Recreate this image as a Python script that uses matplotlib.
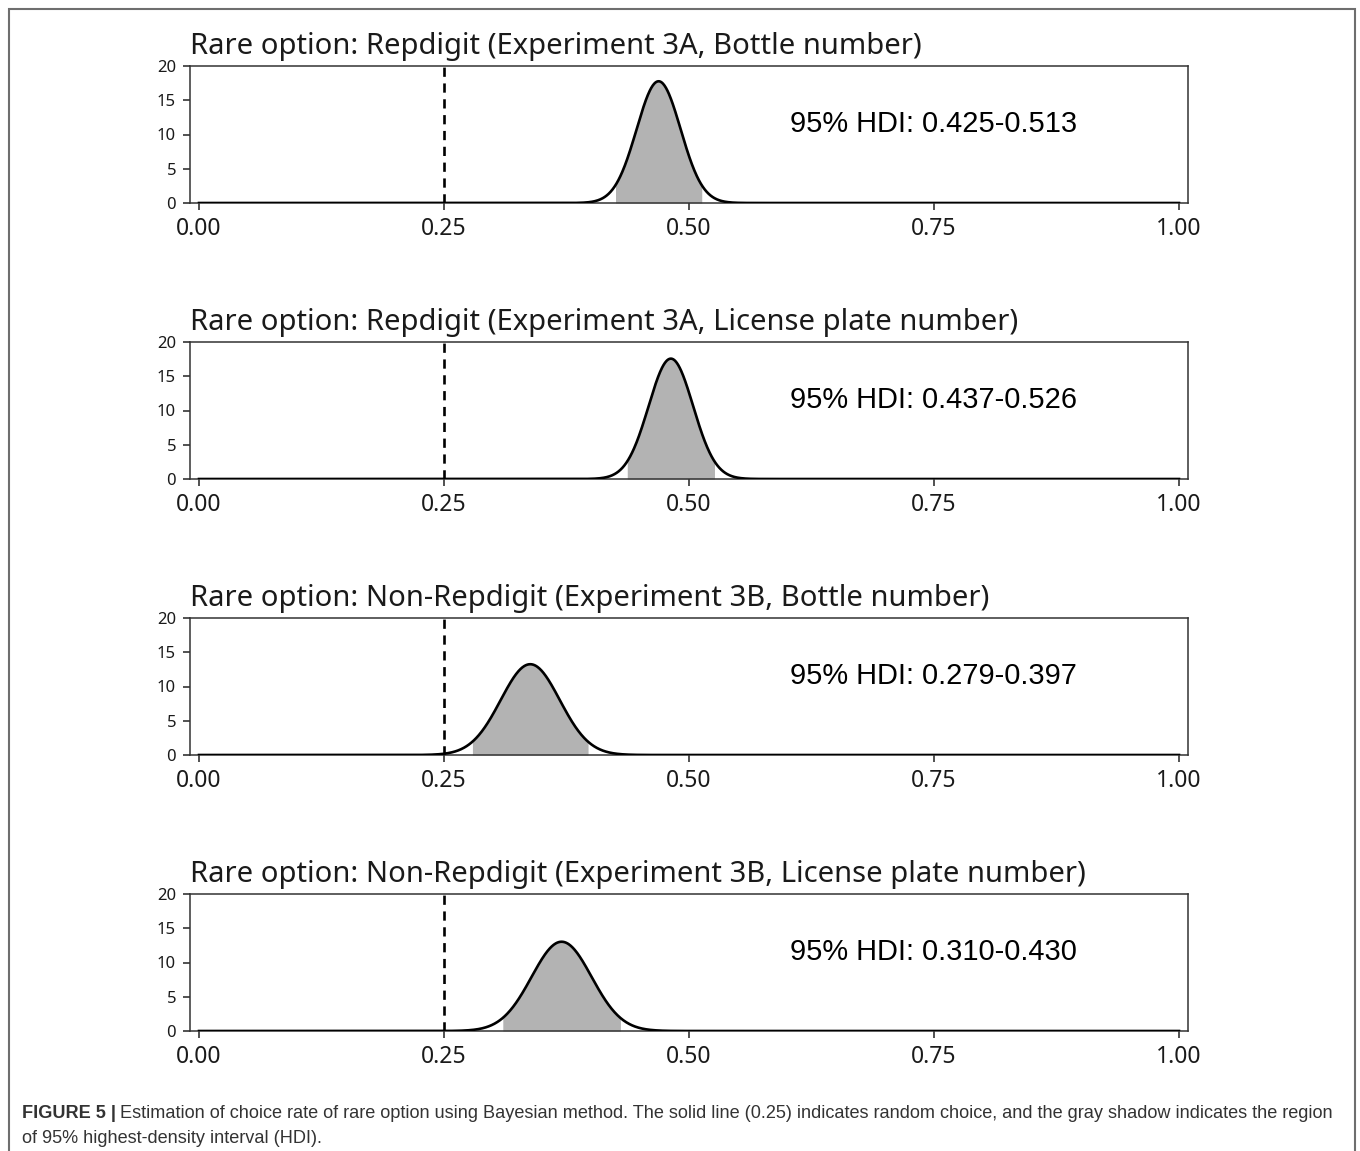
import numpy as np
import matplotlib.pyplot as plt
from matplotlib.patches import Rectangle

titles = [
    "Rare option: Repdigit (Experiment 3A, Bottle number)",
    "Rare option: Repdigit (Experiment 3A, License plate number)",
    "Rare option: Non-Repdigit (Experiment 3B, Bottle number)",
    "Rare option: Non-Repdigit (Experiment 3B, License plate number)",
]
hdi_low = [0.425, 0.437, 0.279, 0.310]
hdi_high = [0.513, 0.526, 0.397, 0.430]
chance = 0.25
x_ticks = [0.00, 0.25, 0.50, 0.75, 1.00]
y_ticks = [0, 5, 10, 15, 20]

W, H = 1360, 1151
fig = plt.figure(figsize=(W / 100, H / 100), dpi=100)

label_font = ["Noto Sans", "DejaVu Sans"]
sans = ["Liberation Sans", "DejaVu Sans"]
axcol = "#333333"

left, right = 190, 1188
tops = [66, 342, 618, 894]
panel_h = 137

x = np.linspace(0, 1, 2001)

for i in range(4):
    top = tops[i]
    ax = fig.add_axes([left / W, 1 - (top + panel_h) / H,
                       (right - left) / W, panel_h / H])
    lo, hi = hdi_low[i], hdi_high[i]
    # posterior approximated as normal with the 95% HDI as +/- 1.96 sd
    mu = (lo + hi) / 2
    sd = (hi - lo) / (2 * 1.96)
    dens = np.exp(-0.5 * ((x - mu) / sd) ** 2) / (sd * np.sqrt(2 * np.pi))

    inside = (x >= lo) & (x <= hi)
    ax.fill_between(x[inside], 0, dens[inside], color="#b3b3b3", lw=0, zorder=1)
    ax.plot(x, dens, color="black", lw=1.9, zorder=3)
    ax.vlines(chance, 0, 20, colors="black", linestyles=(0, (3.5, 2.5)),
              lw=1.9, zorder=2)

    ax.set_xlim(-9 / 980, 1 + 9 / 980)
    ax.set_ylim(0, 20)
    ax.set_xticks(x_ticks)
    ax.set_xticklabels([f"{t:.2f}" for t in x_ticks], fontfamily=label_font,
                       fontsize=16.5)
    ax.set_yticks(y_ticks)
    ax.set_yticklabels([str(t) for t in y_ticks], fontfamily=label_font,
                       fontsize=12)
    ax.tick_params(axis="x", length=5, width=1.2, color=axcol, pad=5,
                   labelcolor="#1a1a1a")
    ax.tick_params(axis="y", length=5, width=1.2, color=axcol, pad=5,
                   labelcolor="#1a1a1a")
    for sp in ax.spines.values():
        sp.set_color(axcol)
        sp.set_linewidth(1.1)

    ax.text(0, 1 + 12 / panel_h, titles[i], transform=ax.transAxes,
            ha="left", va="baseline", fontsize=21, fontfamily=label_font,
            color="#1a1a1a")
    ax.text(0.603, 11.6, f"95% HDI: {lo:.3f}-{hi:.3f}", ha="left",
            va="center", fontsize=20.9, fontfamily=sans, color="black")

# outer frame
fig.add_artist(Rectangle((8.5 / W, -0.05), (1355 - 8.5) / W,
                         1.05 - 8.5 / H, transform=fig.transFigure,
                         fill=False, edgecolor="#6e6e6e", lw=1.5))

# caption
cap_x = 22 / W
cap_size = 13.1
bold = fig.text(cap_x, 1 - 1118 / H, "FIGURE 5 |", fontsize=cap_size,
                fontweight="bold", fontfamily=sans, color="#333333",
                va="baseline")
renderer = fig.canvas.get_renderer()
bb = bold.get_window_extent(renderer)
fig.text(bb.x1 / W + 4 / W, 1 - 1118 / H,
         "Estimation of choice rate of rare option using Bayesian method. "
         "The solid line (0.25) indicates random choice, and the gray shadow "
         "indicates the region",
         fontsize=cap_size, fontfamily=sans, color="#333333", va="baseline")
fig.text(cap_x, 1 - 1143 / H, "of 95% highest-density interval (HDI).",
         fontsize=cap_size, fontfamily=sans, color="#333333", va="baseline")

fig.savefig("out.png", dpi=100)
